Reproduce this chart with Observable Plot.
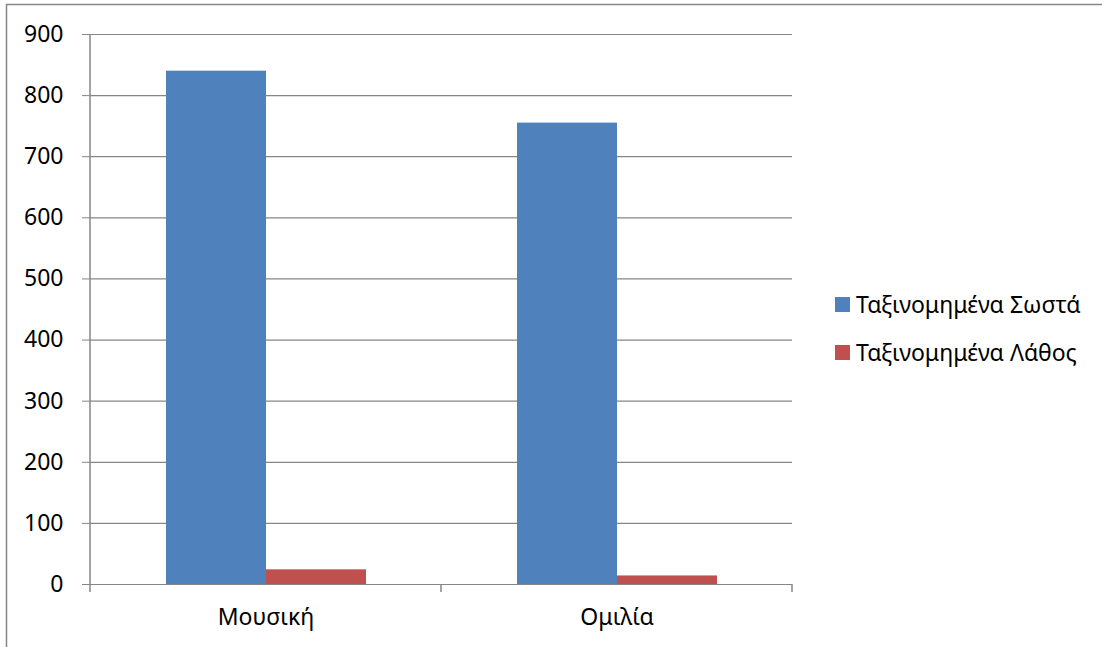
<!DOCTYPE html>
<html>
<head>
<meta charset="utf-8">
<script src="https://cdn.jsdelivr.net/npm/d3@7"></script>
<script src="https://cdn.jsdelivr.net/npm/@observablehq/plot@0.6"></script>
<style>
  html, body { margin: 0; padding: 0; background: #fff; }
  #chart { position: relative; width: 1102px; height: 647px; overflow: hidden; font-family: "Noto Sans", sans-serif; }
  #legend { position: absolute; left: 835px; top: 291px; font-size: 23px; color: #000; }
  #legend .item { display: flex; align-items: center; height: 26px; margin-bottom: 22px; white-space: nowrap; }
  #legend .sw { width: 15px; height: 15px; margin-right: 6px; flex: none; }
</style>
</head>
<body>
<div id="chart"></div>
<script>
// Categories, series and values
const categories = ["Μουσική", "Ομιλία"];
const series = ["Ταξινομημένα Σωστά", "Ταξινομημένα Λάθος"];
const correct = [840, 755];
const wrong = [24, 14];
const seriesColors = ["#4F81BD", "#C0504D"];
const yTicks = [0, 100, 200, 300, 400, 500, 600, 700, 800, 900];

// Long table for the grouped bars
const rows = [];
categories.forEach((c, i) => {
  rows.push({category: c, series: series[0], value: correct[i]});
  rows.push({category: c, series: series[1], value: wrong[i]});
});

const axisGrey = "#868686";

const plot = Plot.plot({
  width: 1102,
  height: 647,
  marginLeft: 89,
  marginRight: 310,
  marginTop: 34,
  marginBottom: 63,
  style: {fontFamily: "'Noto Sans', sans-serif", fontSize: "23px", color: "#000", background: "transparent", overflow: "visible"},
  fx: {domain: categories, padding: 0, label: null},
  x: {domain: series, paddingInner: 0, paddingOuter: 0.75, axis: null},
  y: {domain: [0, 900], label: null},
  color: {domain: series, range: seriesColors},
  marks: [
    Plot.gridY(yTicks, {stroke: axisGrey, strokeOpacity: 1, strokeWidth: 1.2}),
    Plot.barY(rows, {fx: "category", x: "series", y: "value", fill: "series"}),
    Plot.axisY(yTicks, {tickSize: 8, tickPadding: 19, stroke: axisGrey, fill: "#000", label: null, fontSize: 23}),
    Plot.axisFx({anchor: "bottom", tickSize: 0, tickPadding: 24, label: null, fill: "#000", fontSize: 23})
  ]
});

const chart = document.getElementById("chart");
chart.appendChild(plot);

// Axis line and category boundary ticks, positioned through the plot's scales
const svg = d3.select(plot);
const fx = plot.scale("fx");
const y = plot.scale("y");
const y0 = y.apply(0), yTop = y.apply(900);
const edges = [fx.apply(categories[0])].concat(categories.map(c => fx.apply(c) + fx.bandwidth));
const g = svg.append("g").attr("stroke", axisGrey).attr("stroke-width", 1.5);
g.append("line").attr("x1", edges[0]).attr("x2", edges[0]).attr("y1", yTop).attr("y2", y0 + 8);
edges.slice(1).forEach(x => {
  g.append("line").attr("x1", x).attr("x2", x).attr("y1", y0).attr("y2", y0 + 8);
});

// Outer chart border
svg.append("rect")
  .attr("x", 6.5).attr("y", 4.5)
  .attr("width", 1200).attr("height", 800)
  .attr("fill", "none").attr("stroke", axisGrey).attr("stroke-width", 1.5);

// Legend
const legend = d3.select(chart).append("div").attr("id", "legend");
series.forEach((s, i) => {
  const item = legend.append("div").attr("class", "item");
  item.append("div").attr("class", "sw").style("background", seriesColors[i]);
  item.append("span").text(s);
});
</script>
</body>
</html>
